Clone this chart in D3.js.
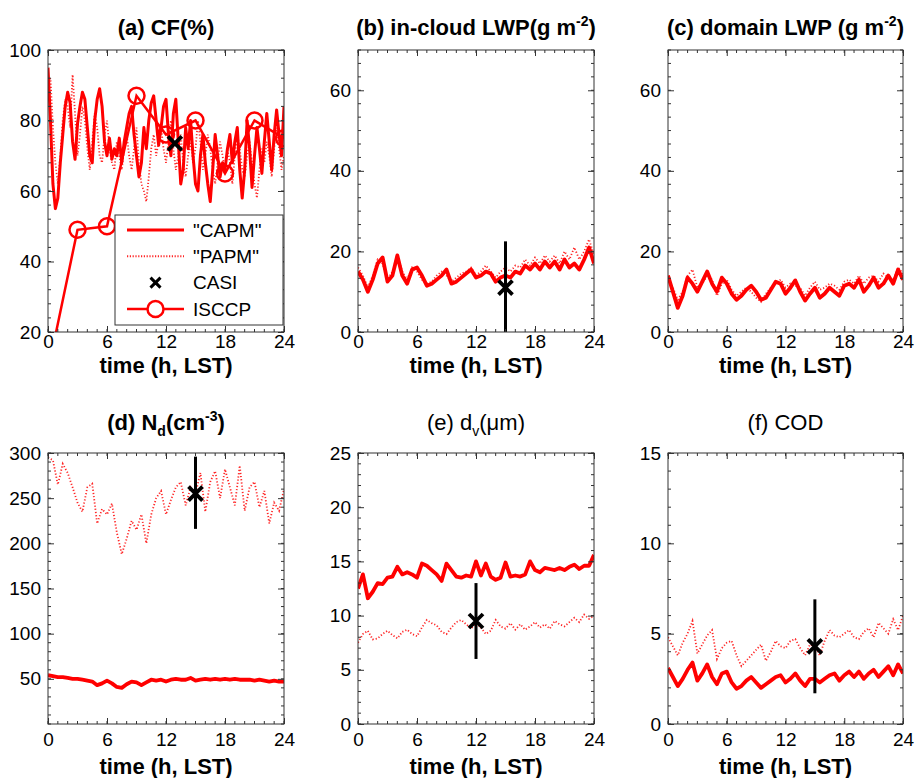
<!DOCTYPE html>
<html>
<head>
<meta charset="utf-8">
<script src="https://cdn.jsdelivr.net/npm/d3@7"></script>
<style>
body { margin: 0; background: #fff; }
text { font-family: Arial, "Liberation Sans", sans-serif; fill: #000; }
</style>
</head>
<body>
<svg width="917" height="778"></svg>
<script>
// time grids (hours, LST)
var tQuarter = d3.range(0, 24.001, 0.25);
var tHalf = d3.range(0, 24.001, 0.5);

// (a) cloud fraction, 0.25 h steps
var capmCF = [95, 80, 62, 55, 58, 68, 76, 84,
              88, 85, 74, 69, 79, 84, 88, 86,
              78, 70, 68, 80, 86, 89, 84, 74,
              70, 75, 69, 72, 70, 75, 68, 74,
              78, 82, 84, 76, 70, 64, 68, 78,
              72, 80, 85, 87, 80, 73, 78, 84,
              86, 76, 70, 82, 86, 74, 62, 66,
              78, 72, 80, 70, 62, 60, 70, 76,
              68, 62, 57, 66, 76, 70, 64, 68,
              66, 72, 76, 68, 74, 78, 66, 58,
              66, 80, 72, 61, 70, 78, 72, 65,
              74, 82, 74, 66, 76, 83, 76, 70,
              84];
var papmCF = [90, 92, 78, 68, 62, 70, 80, 86,
              84, 78, 93, 82, 70, 76, 84, 80,
              72, 66, 74, 82, 78, 70, 68, 76,
              80, 72, 68, 66, 74, 70, 66, 72,
              76, 70, 66, 72, 78, 68, 62, 60,
              57, 64, 72, 76, 70, 74, 78, 72,
              68, 74, 80, 72, 66, 70, 76, 68,
              64, 70, 74, 68, 72, 80, 74, 66,
              70, 76, 72, 66, 62, 68, 74, 70,
              66, 72, 68, 62, 70, 76, 72, 66,
              64, 70, 74, 68, 62, 58, 66, 72,
              68, 74, 70, 64, 72, 78, 72, 66,
              70];
var isccpT = [0, 3, 6, 9, 12, 15, 18, 21, 24];
var isccpCF = [9, 49, 50, 87, 76, 80, 65, 80, 75];

// (b) in-cloud LWP, 0.5 h steps
var capmLWPc = [15, 13, 10, 13, 17, 18.5, 12.5, 14,
                19, 14, 12, 15.5, 16, 14, 11.5, 12,
                13, 14, 15.5, 12, 12.5, 13.5, 14.5, 15.5,
                13.5, 14, 15, 14.5, 12.5, 13.5, 14, 13.5,
                15, 14.5, 16.5, 15.5, 17, 15.5, 17.5, 16,
                17.5, 15.5, 18, 16, 17, 15.5, 18, 21,
                17];
var papmLWPc = [16, 14, 11, 14, 18, 17, 13, 15,
                19, 15, 13, 16, 15, 13, 12, 12.5,
                14, 15, 14, 12.5, 13.5, 14.5, 15, 16,
                14, 15, 16.5, 15, 13.5, 15, 16, 15,
                16.5, 16, 18, 16.5, 18.5, 17, 19, 17.5,
                19, 17, 20, 18, 21, 18, 20, 23,
                19];

// (c) domain LWP
var capmLWPd = [14, 10, 6, 9, 13.5, 12, 10, 12.5,
                15, 12, 10, 13.5, 12, 9.5, 8, 9,
                10.5, 11.5, 10, 8, 8.5, 10.5, 12.5, 12,
                9.5, 11, 12.8, 10, 7.8, 9.5, 11, 8.5,
                9.5, 11, 10, 9, 11.5, 12, 11, 13,
                10, 11.5, 13.5, 11, 12, 14, 12, 15.5,
                13];
var papmLWPd = [13, 11, 8, 10, 14, 15.5, 11, 12,
                14, 13, 9, 12, 13, 10.5, 9, 10,
                11, 10, 8.5, 7.5, 9.5, 11, 12, 13,
                11, 12, 11.5, 11, 9, 11, 12.5, 10.5,
                11, 12, 11.5, 10.5, 12.5, 13, 12, 14,
                12, 13.5, 14, 12.5, 14.5, 13.5, 13, 16,
                14.5];

// (d) droplet number concentration
var capmNd = [54, 53, 52, 52, 51, 50, 50, 49,
              48, 47, 43, 45, 48, 45, 41, 40,
              44, 47, 46, 43, 46, 49, 48, 49,
              47, 49, 50, 49, 49, 51, 48, 49,
              50, 49, 50, 49, 50, 49, 50, 49,
              49, 49, 48, 49, 48, 47, 48, 47,
              47];
var papmNd = [295, 292, 265, 288, 278, 262, 245, 235,
              262, 266, 222, 238, 232, 244, 212, 188,
              205, 225, 215, 232, 200, 232, 250, 258,
              232, 248, 262, 268, 242, 262, 255, 278,
              235, 268, 280, 250, 282, 262, 242, 286,
              236, 262, 268, 240, 258, 222, 245, 236,
              260];

// (e) volume mean diameter
var capmDv = [12.5, 13.8, 11.6, 12.2, 13, 12.9, 13.5, 13.6,
              14.5, 13.8, 14, 13.8, 13.5, 14.8, 14.6, 14.2,
              13.8, 13.2, 14.8, 14.2, 13.6, 13.5, 13.7, 13.6,
              15, 13.7, 14.8, 13.6, 13.3, 13.5, 14.9, 13.6,
              13.7, 13.6, 13.8, 15, 14.2, 14, 14.4, 14.3,
              14.2, 14.4, 14.2, 14.5, 14.7, 14.3, 14.6, 14.6,
              15.6];
var papmDv = [7.5, 8.3, 8.6, 7.8, 7.9, 8.3, 8.6, 8.2,
              7.9, 8.5, 8.7, 8.3, 8.1, 8.9, 9.6, 9.3,
              9.1, 8.5, 8.3, 8.9, 9.4, 9.6, 9.2, 8.8,
              9.3, 8.9, 8.3, 8.6, 9.6, 9.0, 8.8, 9.3,
              8.7, 9.2, 8.7, 9.0, 9.4, 8.9, 9.2, 8.8,
              9.5, 9.2, 9.0, 9.4, 9.8, 9.4, 10.1, 9.7,
              10.0];

// (f) cloud optical depth
var capmCOD = [3.1, 2.6, 2.1, 2.5, 3.0, 3.4, 2.4, 2.8,
               3.3, 2.6, 2.2, 2.8, 2.9, 2.3, 1.95, 2.1,
               2.4, 2.6, 2.3, 2.0, 2.2, 2.4, 2.6, 2.7,
               2.3, 2.5, 2.8, 2.4, 2.1, 2.5, 2.5, 2.3,
               2.5, 2.7, 2.8, 2.4, 2.7, 2.9, 2.6, 2.9,
               2.5, 2.8, 3.0, 2.6, 2.9, 3.2, 2.7, 3.3,
               2.8];
var papmCOD = [4.8, 4.3, 3.8, 4.5, 5.0, 5.7, 3.9, 4.4,
               4.9, 5.2, 3.6, 4.2, 4.5, 4.6, 3.8, 3.2,
               3.5, 3.8, 4.1, 4.4, 3.5, 4.0, 4.6, 4.3,
               4.2, 4.6, 4.7, 4.2, 3.8, 4.4, 4.3, 3.8,
               4.6, 5.2, 4.9, 4.8, 5.0, 5.2, 4.8, 4.7,
               5.1, 5.3, 4.8, 5.6, 5.3, 5.0, 5.8, 5.2,
               6.0];

// CASI observations: time, value, error bar low, error bar high
var casiT    = [12.9, 15,   null, 15,  12,  15];
var casiVal  = [73.5, 11,   null, 255, 9.5, 4.3];
var casiLow  = [null, 0,    null, 216, 6,   1.7];
var casiHigh = [null, 22.5, null, 296, 13,  6.9];

var xTicks = [0, 6, 12, 18, 24];
var yDomains = [[20, 100], [0, 70], [0, 70], [0, 300], [0, 25], [0, 15]];
var yTicks = [[20, 40, 60, 80, 100], [0, 20, 40, 60], [0, 20, 40, 60],
              [50, 100, 150, 200, 250, 300], [0, 5, 10, 15, 20, 25], [0, 5, 10, 15]];
var yMinor = [4, 20 / 6, 20 / 6, 10, 1, 1];
var titles = [
  [["(a) CF(%)"]],
  [["(b) in-cloud LWP(g m"], ["-2", "sup"], [")"]],
  [["(c) domain LWP (g m"], ["-2", "sup"], [")"]],
  [["(d) N"], ["d", "sub"], ["(cm"], ["-3", "sup"], [")"]],
  [["(e) d"], ["v", "sub"], ["(\u03bcm)"]],
  [["(f) COD"]]
];
var titleBold = [true, true, true, true, false, false];
var legendLabels = ["\"CAPM\"", "\"PAPM\"", "CASI", "ISCCP"];

var capmSeries = [capmCF, capmLWPc, capmLWPd, capmNd, capmDv, capmCOD];
var papmSeries = [papmCF, papmLWPc, papmLWPd, papmNd, papmDv, papmCOD];

var svg = d3.select("svg");
var cols = [[48, 284], [358, 594], [668, 903]];
var rows = [
  { top: 50, bottom: 332, pad: 2, label: 373, title: 35 },
  { top: 453, bottom: 724, pad: 9, label: 774, title: 430 }
];
var RED = "#ff0000";

function drawX(g, cx, cy, s, w) {
  g.append("path")
    .attr("d", "M" + (cx - s) + "," + (cy - s) + "L" + (cx + s) + "," + (cy + s) +
               "M" + (cx - s) + "," + (cy + s) + "L" + (cx + s) + "," + (cy - s))
    .attr("stroke", "#000").attr("stroke-width", w).attr("fill", "none");
}

for (var i = 0; i < 6; i++) drawPanel(i);

function drawPanel(i) {
  var c = cols[i % 3], r = rows[Math.floor(i / 3)];
  var x = d3.scaleLinear().domain([0, 24]).range(c);
  var y = d3.scaleLinear().domain(yDomains[i]).range([r.bottom, r.top]);
  var g = svg.append("g");

  g.append("clipPath").attr("id", "clip" + i)
    .append("rect").attr("x", c[0]).attr("y", r.top)
    .attr("width", c[1] - c[0]).attr("height", r.bottom - r.top);

  var plot = g.append("g").attr("clip-path", "url(#clip" + i + ")");
  var tt = i === 0 ? tQuarter : tHalf;
  var line = d3.line().x(function(d) { return x(d[0]); }).y(function(d) { return y(d[1]); });

  // PAPM dotted
  plot.append("path")
    .datum(d3.zip(tt, papmSeries[i]))
    .attr("d", line)
    .attr("fill", "none").attr("stroke", RED).attr("stroke-opacity", 0.85)
    .attr("stroke-width", 1.8).attr("stroke-dasharray", "1.2,2");

  // CAPM solid
  plot.append("path")
    .datum(d3.zip(tt, capmSeries[i]))
    .attr("d", line)
    .attr("fill", "none").attr("stroke", RED)
    .attr("stroke-width", i === 0 ? 3 : 3.8).attr("stroke-linejoin", "round");

  if (i === 0) {
    var iData = d3.zip(isccpT, isccpCF);
    plot.append("path").datum(iData).attr("d", line)
      .attr("fill", "none").attr("stroke", RED).attr("stroke-width", 2.5);
    plot.selectAll("circle.isccp").data(iData).enter().append("circle")
      .attr("class", "isccp")
      .attr("cx", function(d) { return x(d[0]); })
      .attr("cy", function(d) { return y(d[1]); })
      .attr("r", 8).attr("fill", "none").attr("stroke", RED).attr("stroke-width", 2.5);
  }

  // CASI
  if (casiT[i] !== null) {
    if (casiLow[i] !== null) {
      plot.append("line")
        .attr("x1", x(casiT[i])).attr("x2", x(casiT[i]))
        .attr("y1", y(casiLow[i])).attr("y2", y(casiHigh[i]))
        .attr("stroke", "#000").attr("stroke-width", 3);
    }
    drawX(plot, x(casiT[i]), y(casiVal[i]), 7, 3.8);
  }

  // box
  g.append("rect").attr("x", c[0]).attr("y", r.top)
    .attr("width", c[1] - c[0]).attr("height", r.bottom - r.top)
    .attr("fill", "none").attr("stroke", "#333").attr("stroke-width", 1);

  // minor ticks all round
  var xm = d3.range(0, 24.001, 1);
  var ym = d3.range(yDomains[i][0], yDomains[i][1] + 1e-6, yMinor[i]);
  [["b", r.bottom, -3], ["t", r.top, 3]].forEach(function(s) {
    g.selectAll(null).data(xm).enter().append("line")
      .attr("x1", x).attr("x2", x).attr("y1", s[1]).attr("y2", s[1] + s[2])
      .attr("stroke", "#333").attr("stroke-width", 1);
  });
  [["l", c[0], 3], ["r", c[1], -3]].forEach(function(s) {
    g.selectAll(null).data(ym).enter().append("line")
      .attr("y1", y).attr("y2", y).attr("x1", s[1]).attr("x2", s[1] + s[2])
      .attr("stroke", "#333").attr("stroke-width", 1);
  });

  // major axes
  var ax = g.append("g").attr("transform", "translate(0," + r.bottom + ")")
    .call(d3.axisBottom(x).tickValues(xTicks).tickSizeInner(-6).tickSizeOuter(0).tickPadding(r.pad));
  var axT = g.append("g").attr("transform", "translate(0," + r.top + ")")
    .call(d3.axisTop(x).tickValues(xTicks).tickSizeInner(-6).tickSizeOuter(0).tickFormat(""));
  var ay = g.append("g").attr("transform", "translate(" + c[0] + ",0)")
    .call(d3.axisLeft(y).tickValues(yTicks[i]).tickSizeInner(-6).tickSizeOuter(0).tickPadding(7));
  var ayR = g.append("g").attr("transform", "translate(" + c[1] + ",0)")
    .call(d3.axisRight(y).tickValues(yTicks[i]).tickSizeInner(-6).tickSizeOuter(0).tickFormat(""));
  [ax, axT, ay, ayR].forEach(function(a) {
    a.select(".domain").remove();
    a.selectAll("line").attr("stroke", "#333");
    a.selectAll("text").attr("font-size", 19).attr("fill", "#000")
      .attr("font-family", "Arial, 'Liberation Sans', sans-serif");
  });

  // x label
  g.append("text").attr("x", (c[0] + c[1]) / 2).attr("y", r.label)
    .attr("text-anchor", "middle").attr("font-size", 22).attr("font-weight", "bold")
    .text("time (h, LST)");

  // title with sub/superscripts
  var t = g.append("text").attr("x", (c[0] + c[1]) / 2).attr("y", r.title)
    .attr("text-anchor", "middle").attr("font-size", 22)
    .attr("font-weight", titleBold[i] ? "bold" : "normal");
  var shift = 0;
  titles[i].forEach(function(seg) {
    var target = seg[1] === "sup" ? -9 : seg[1] === "sub" ? 6 : 0;
    var ts = t.append("tspan").attr("dy", target - shift).text(seg[0]);
    if (seg[1]) ts.attr("font-size", 14);
    shift = target;
  });

  if (i === 0) drawLegend(g);
}

function drawLegend(g) {
  var lx = 115, ly = 215, lw = 168, lh = 110;
  var lg = g.append("g");
  lg.append("rect").attr("x", lx).attr("y", ly).attr("width", lw).attr("height", lh)
    .attr("fill", "#fff").attr("stroke", "#333").attr("stroke-width", 1);
  var rowY = d3.scalePoint().domain(legendLabels).range([ly + 15, ly + 94]);
  var x1 = 127, x2 = 184, xm = (x1 + x2) / 2;
  legendLabels.forEach(function(lab, k) {
    var yy = rowY(lab);
    if (k === 0) {
      lg.append("line").attr("x1", x1).attr("x2", x2).attr("y1", yy).attr("y2", yy)
        .attr("stroke", RED).attr("stroke-width", 3);
    } else if (k === 1) {
      lg.append("line").attr("x1", x1).attr("x2", x2).attr("y1", yy).attr("y2", yy)
        .attr("stroke", RED).attr("stroke-opacity", 0.85).attr("stroke-width", 2)
        .attr("stroke-dasharray", "1.2,1.6");
    } else if (k === 2) {
      drawX(lg, xm, yy, 5, 3);
    } else {
      lg.append("line").attr("x1", x1).attr("x2", x2).attr("y1", yy).attr("y2", yy)
        .attr("stroke", RED).attr("stroke-width", 2.5);
      lg.append("circle").attr("cx", xm).attr("cy", yy).attr("r", 8)
        .attr("fill", "#fff").attr("stroke", RED).attr("stroke-width", 2.5);
    }
    lg.append("text").attr("x", 193).attr("y", yy).attr("dy", "0.35em")
      .attr("font-size", 19).text(lab);
  });
}
</script>
</body>
</html>
